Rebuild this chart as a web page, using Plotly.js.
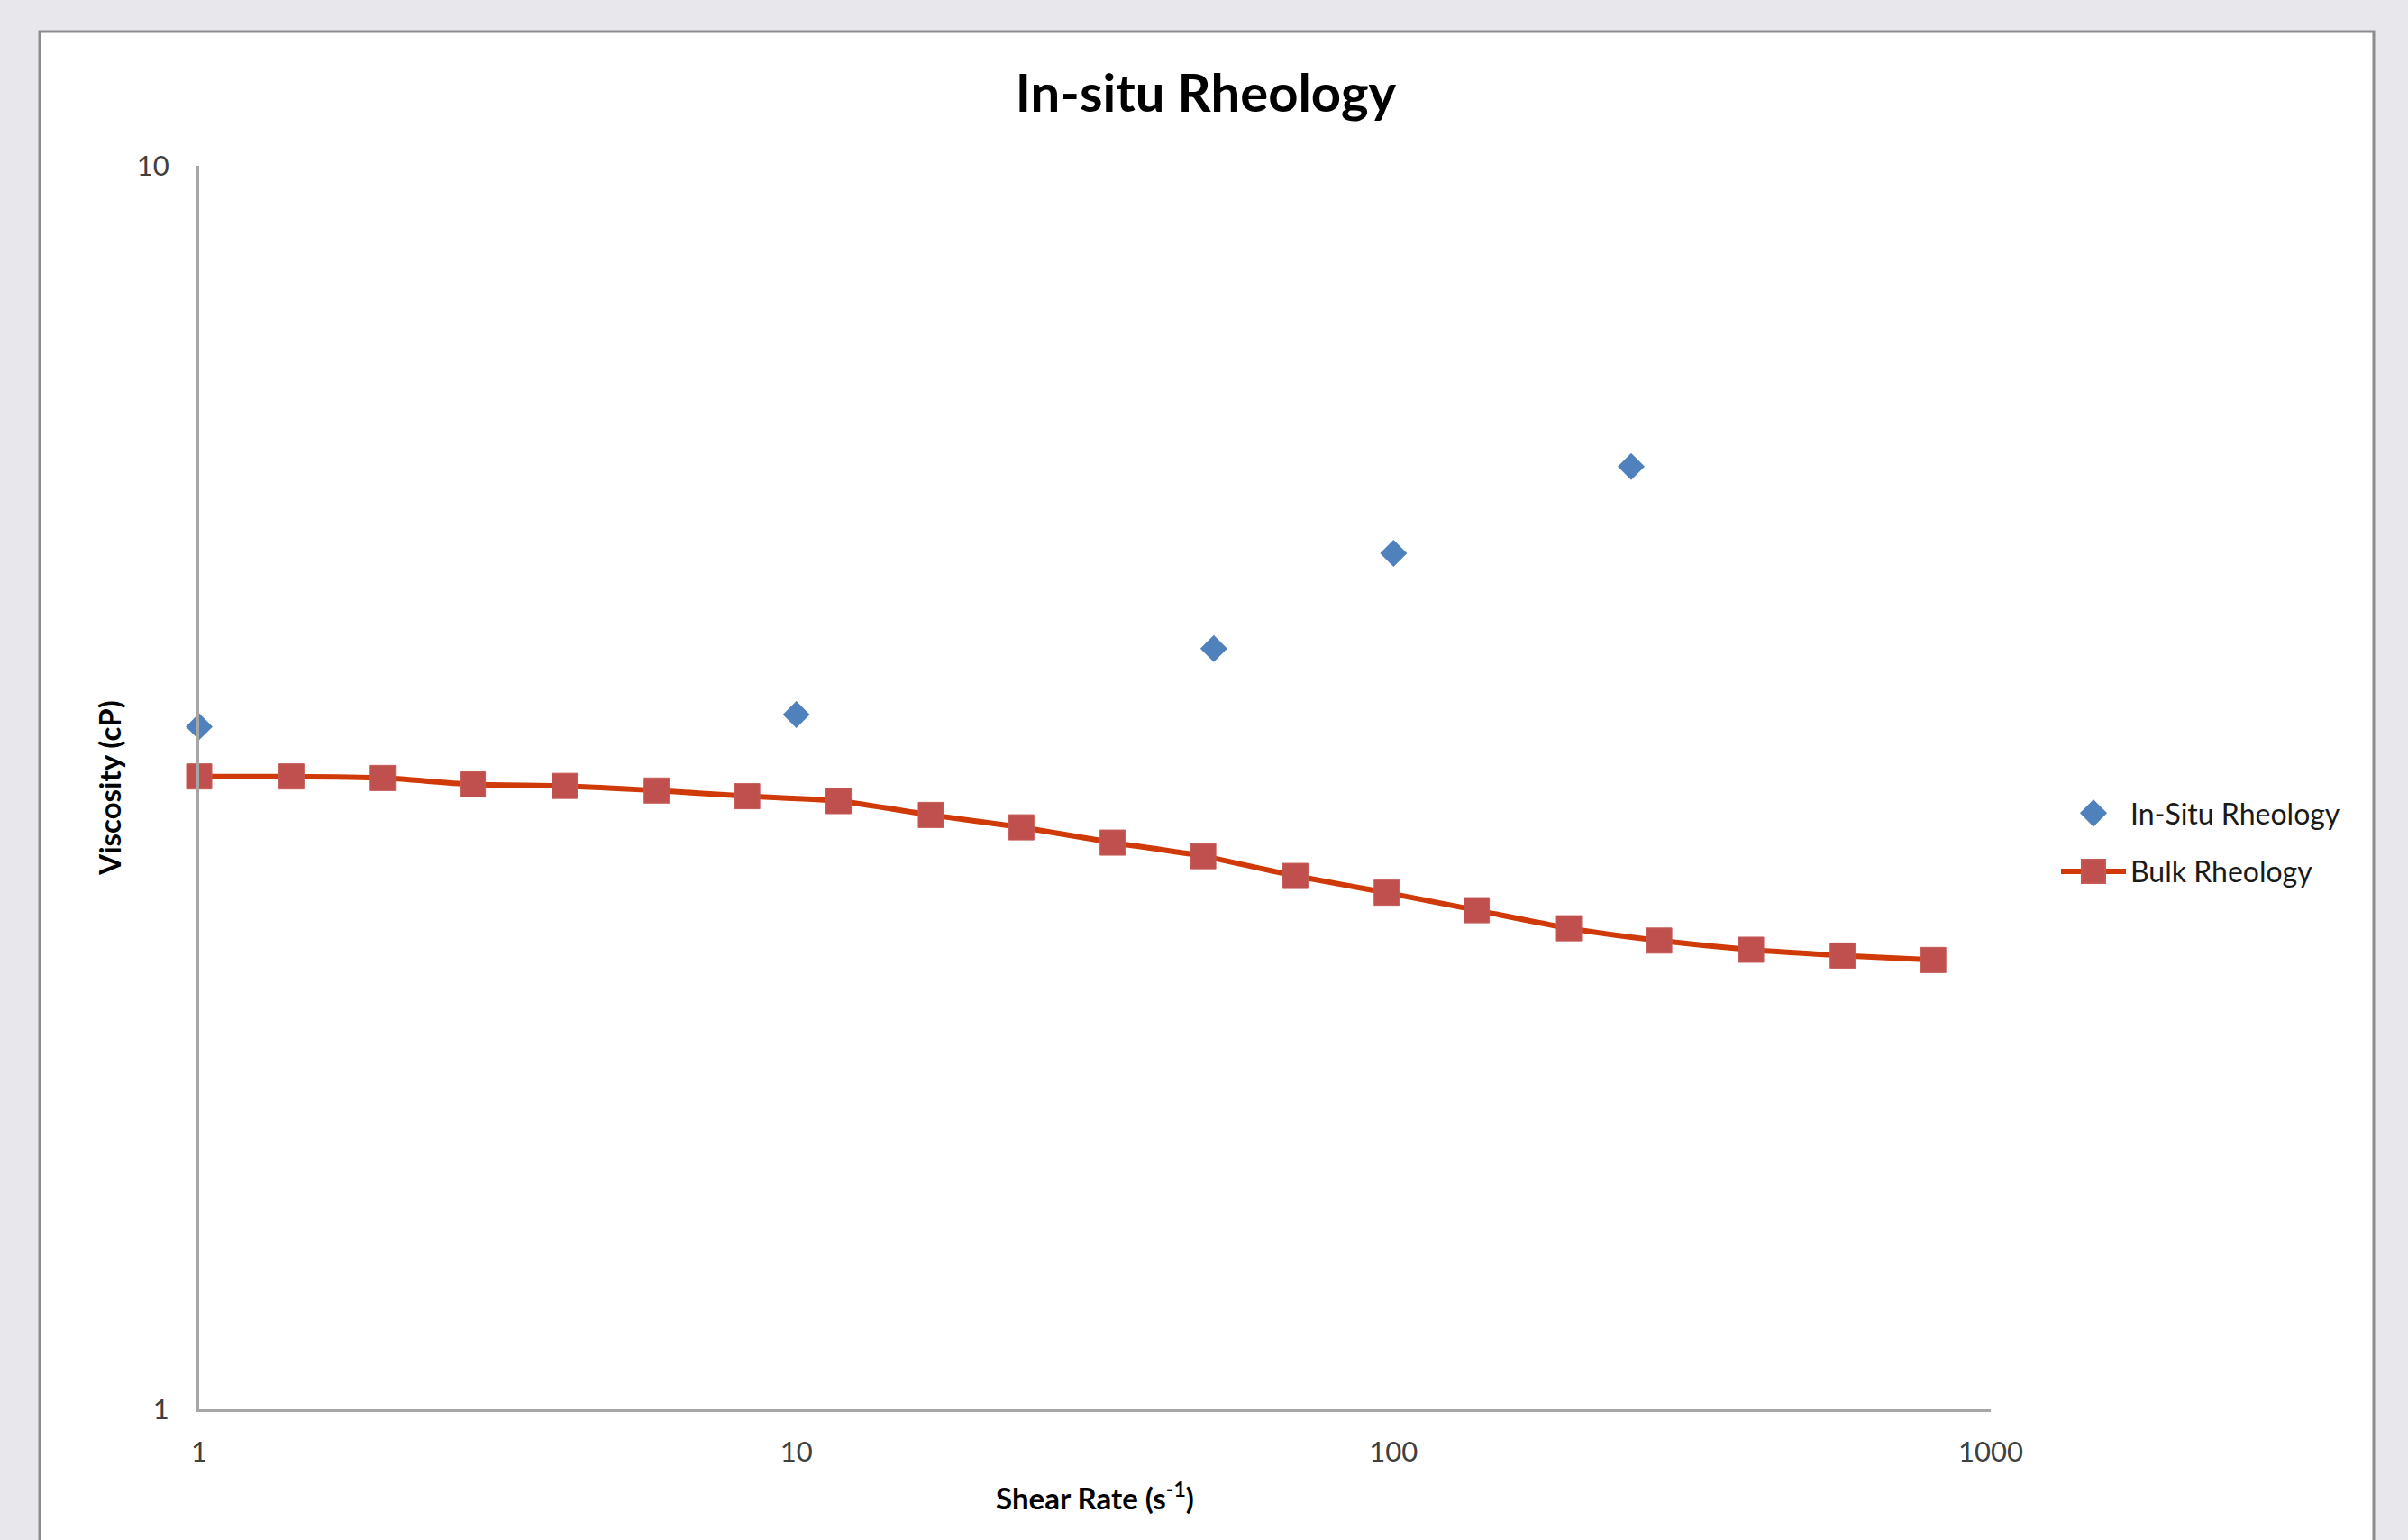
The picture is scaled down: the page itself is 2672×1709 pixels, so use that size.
<!DOCTYPE html>
<html>
<head>
<meta charset="utf-8">
<script src="https://cdn.plot.ly/plotly-3.0.1.min.js"></script>
<style>
  html, body { margin: 0; padding: 0; background: #e8e7ec; }
  #chart { width: 2672px; height: 1709px; }
</style>
</head>
<body>
<div id="chart"></div>
<script>
// ---- Data ----
const inSituShearRate = [1, 10, 50, 100, 250];
const inSituViscosity = [3.54, 3.62, 4.09, 4.88, 5.73];

const bulkShearRate = [1, 1.427, 2.03, 2.872, 4.092, 5.837, 8.274, 11.77, 16.8, 23.81,
                       33.86, 48.0, 68.5, 97.4, 137.8, 196.7, 278.5, 396.9, 565.1, 801.2];
const bulkViscosity = [3.228, 3.228, 3.219, 3.181, 3.172, 3.145, 3.112, 3.084, 3.006, 2.938,
                       2.856, 2.785, 2.685, 2.603, 2.52, 2.437, 2.382, 2.342, 2.317, 2.298];

const seriesNames = ['In-Situ Rheology', 'Bulk Rheology'];
const xTickValues = [1, 10, 100, 1000];
const xTickLabels = ['1', '10', '100', '1000'];
const yTickValues = [1, 10];
const yTickLabels = ['1', '10'];

// ---- Layout geometry (pixels) ----
const W = 2672, H = 1709;
const M = { l: 221, r: W - 2209, t: 184, b: H - 1564 };
const PW = W - M.l - M.r, PH = H - M.t - M.b;
const px2x = p => (p - M.l) / PW;
const px2y = p => (M.t + PH - p) / PH;

const FONT = 'Lato, "Open Sans", "DejaVu Sans", sans-serif';

const traces = [
  {
    type: 'scatter', mode: 'markers', name: seriesNames[0],
    x: inSituShearRate, y: inSituViscosity,
    legendgroup: 'a',
    marker: { symbol: 'diamond', size: 23, color: '#4F81BD', line: { width: 0 } },
    cliponaxis: false
  },
  {
    type: 'scatter', mode: 'lines+markers', name: seriesNames[1],
    x: bulkShearRate, y: bulkViscosity,
    legendgroup: 'b',
    line: { color: '#D03A08', width: 6, shape: 'spline', smoothing: 0.6 },
    marker: { symbol: 'square', size: 28, color: '#C0504D', line: { width: 1, color: '#C65A57' } },
    cliponaxis: false
  }
];

const layout = {
  width: W, height: H,
  margin: M,
  paper_bgcolor: '#e8e7ec',
  plot_bgcolor: 'rgba(0,0,0,0)',
  font: { family: FONT, color: '#404040', size: 31 },
  showlegend: true,
  title: {
    text: '<b>In-situ Rheology</b>',
    font: { family: FONT, size: 58, color: '#000000' },
    xref: 'container', yref: 'container',
    x: 1338 / W, xanchor: 'center',
    y: 1 - 104 / H, yanchor: 'middle'
  },
  xaxis: {
    type: 'log', range: [0, 3],
    tickvals: xTickValues, ticktext: xTickLabels,
    showgrid: false, zeroline: false,
    showline: true, linecolor: '#a6a6a6', linewidth: 3,
    ticks: '', ticklabelstandoff: 18,
    tickfont: { family: FONT, size: 31, color: '#404040' },
    title: { text: '<b>Shear Rate (s<sup>-1</sup>)</b>', font: { family: FONT, size: 33, color: '#000000' }, standoff: 24 }
  },
  yaxis: {
    type: 'log', range: [0, 1],
    tickvals: yTickValues, ticktext: yTickLabels,
    showgrid: true, gridcolor: '#a6a6a6', gridwidth: 3,
    zeroline: false,
    showline: true, linecolor: '#a6a6a6', linewidth: 3,
    ticks: '', ticklabelstandoff: 24,
    tickfont: { family: FONT, size: 31, color: '#404040' },
    title: { text: '<b>Viscosity (cP)</b>', font: { family: FONT, size: 33, color: '#000000' }, standoff: 8 }
  },
  legend: {
    x: px2x(2282), xanchor: 'left',
    y: px2y(935), yanchor: 'middle',
    bgcolor: 'rgba(0,0,0,0)', borderwidth: 0,
    font: { family: FONT, size: 32, color: '#1a1a1a' },
    tracegroupgap: 20, itemwidth: 72
  },
  shapes: [
    {
      type: 'rect', xref: 'paper', yref: 'paper', layer: 'below',
      x0: px2x(44), x1: px2x(2634), y0: px2y(1760), y1: px2y(35),
      fillcolor: '#ffffff', line: { color: '#8c8c8c', width: 3 }
    }
  ]
};

function enlargeLegendSymbols(gd) {
  const factors = [1.45, 1.65];
  gd.querySelectorAll('.legend .traces').forEach((tr, i) => {
    tr.querySelectorAll('path.scatterpts').forEach(p => {
      const t = (p.getAttribute('transform') || '').replace(/\s*scale\([^)]*\)/, '');
      p.setAttribute('transform', t + ' scale(' + factors[i] + ')');
    });
  });
}

Plotly.newPlot('chart', traces, layout, { displayModeBar: false, staticPlot: true }).then(gd => {
  enlargeLegendSymbols(gd);
});
</script>
</body>
</html>
